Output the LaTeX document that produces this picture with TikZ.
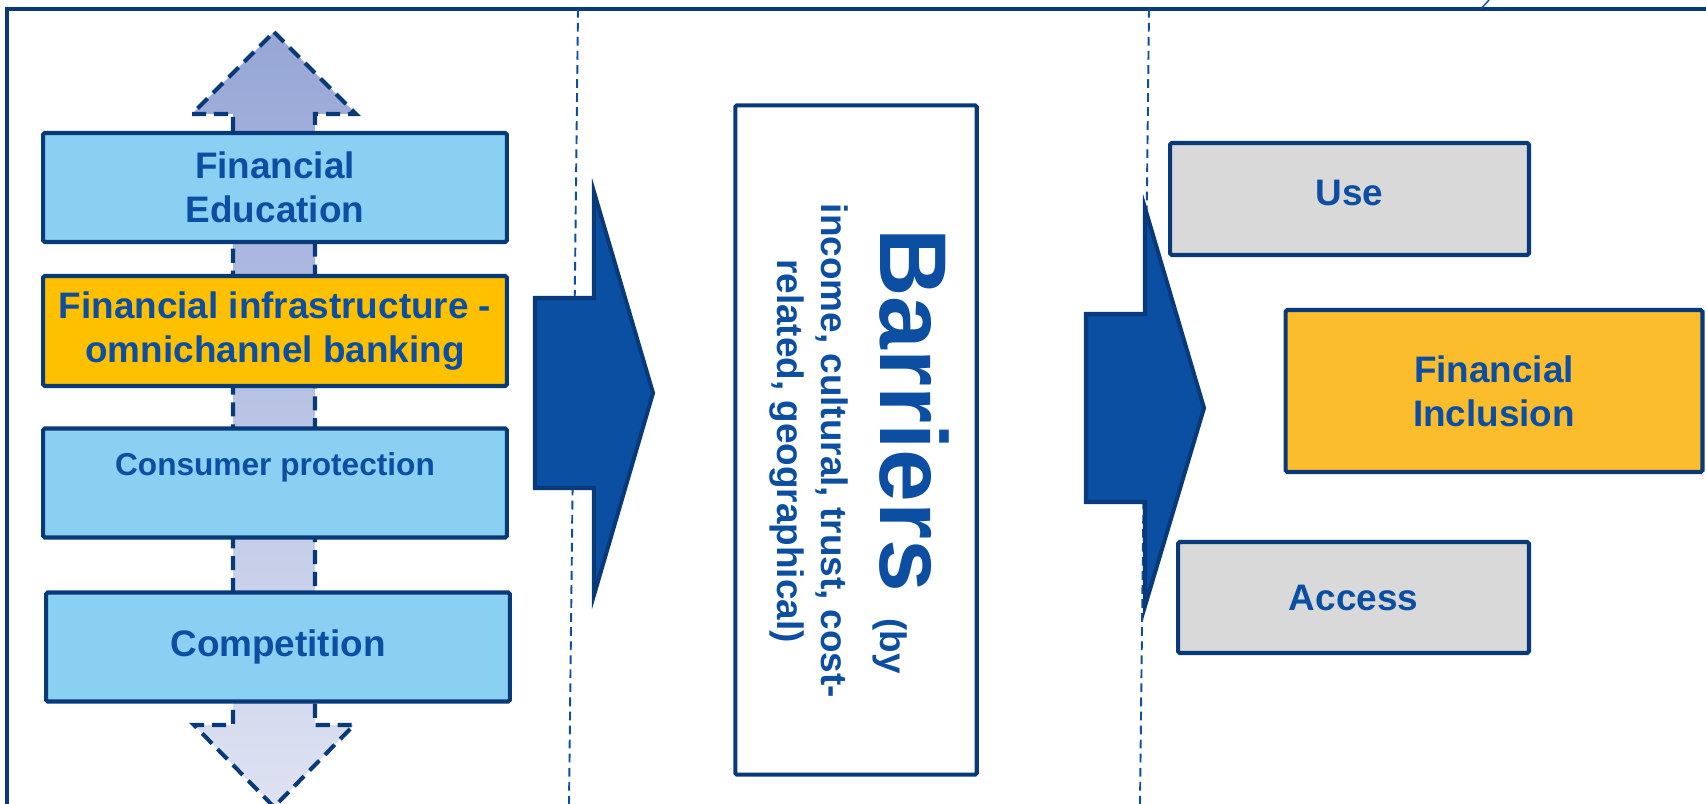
\documentclass[tikz,border=0pt]{standalone}
\usepackage{fontspec}
\setmainfont{Liberation Sans}
\usetikzlibrary{positioning}
\definecolor{nvy}{RGB}{8,58,122}
\definecolor{txb}{RGB}{12,78,162}
\definecolor{sky}{RGB}{137,208,242}
\definecolor{amb}{RGB}{255,192,0}
\definecolor{gld}{RGB}{252,189,45}
\definecolor{gry}{RGB}{217,217,217}
\definecolor{arw}{RGB}{11,79,162}
\definecolor{lav}{RGB}{150,166,214}
\definecolor{lavl}{RGB}{222,226,242}

\begin{document}
\begin{tikzpicture}[x=0.02cm,y=-0.02cm,
    blk/.style={rectangle,draw=nvy,line width=2.3pt,rounded corners=1pt,text=txb,font=\fontsize{21}{25}\selectfont\bfseries,align=center,minimum width=9.28cm,minimum height=2.18cm},
    bigarr/.style={draw=nvy,line width=2.3pt,fill=arw,line join=miter},
    sep/.style={txb,line width=1.1pt,dash pattern=on 5pt off 3pt},
]
\useasboundingbox (0,0) rectangle (1706,804);
\clip (0,0) rectangle (1706,804);

% frame and column separators
\draw[nvy,line width=2.4pt] (7.3,830) -- (7.3,8.8) -- (1730,8.8);
\draw[txb,line width=0.8pt] (1481,8.8) -- (1489,0);
\draw[sep] (578,8.8) -- (569,804);
\draw[sep] (1149,8.8) -- (1140,804);

% double arrow behind the policy boxes
\draw[nvy,line width=2.3pt,dash pattern=on 8pt off 4.5pt,top color=lav,bottom color=lavl]
  (274,32) -- (356,114) -- (315,114) -- (315,725) -- (354,725) -- (274,807)
  -- (194,725) -- (233,725) -- (233,114) -- (192,114) -- cycle;

\node[blk,fill=sky] (edu) at (275,187.5) {Financial\\Education};
\node[blk,fill=amb,minimum height=2.2cm] (infra) at (275,331) {Financial infrastructure -\\omnichannel banking};
\node[blk,fill=sky,font=\fontsize{18}{22}\selectfont\bfseries,text depth=0.75cm] (prot) at (275,483) {Consumer protection};
\node[blk,fill=sky] (comp) at (278,647) {Competition};

% block arrows
\draw[bigarr] (535,298) -- (594,298) -- (594,192) -- (653,393) -- (594,595) -- (594,488) -- (535,488) -- cycle;
\draw[bigarr] (1086,314) -- (1145,314) -- (1145,208) -- (1204,408) -- (1145,606) -- (1145,502) -- (1086,502) -- cycle;

\node[blk,fill=white,minimum width=4.83cm,minimum height=13.39cm] (barr) at (856,440) {};
\node[text=txb,font=\fontsize{21}{25}\selectfont\bfseries,align=center,rotate=-90,anchor=south,inner sep=0pt] (barrtxt) at (769,451)
  {{\fontsize{54}{60}\selectfont Barriers }(by\\[9pt]income, cultural, trust, cost-\\related, geographical)};

\node[blk,fill=gry,minimum width=7.18cm,minimum height=2.24cm,text depth=0.24cm] (use) at (1349.5,199) {Use};
\node[blk,fill=gld,minimum width=8.34cm,minimum height=3.24cm] (incl) at (1494,391) {Financial\\Inclusion};
\node[blk,fill=gry,minimum width=7.02cm,minimum height=2.22cm] (access) at (1353.5,597.5) {Access};
\end{tikzpicture}
\end{document}
